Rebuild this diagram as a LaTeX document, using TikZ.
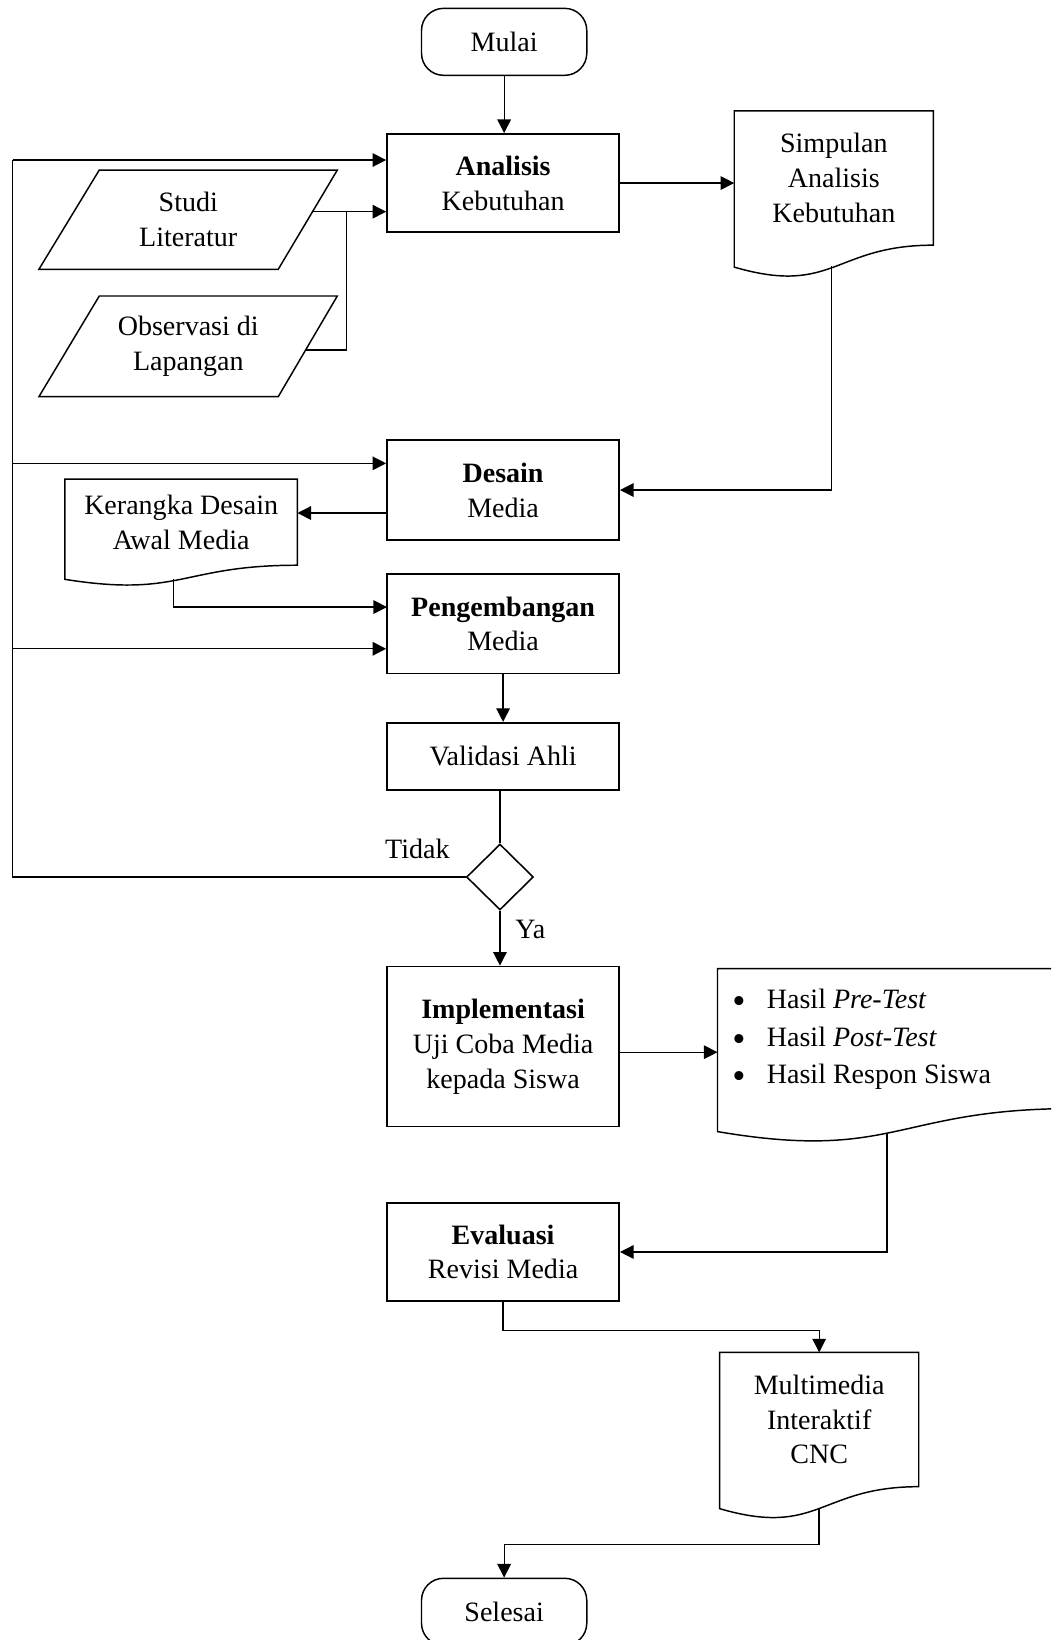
\documentclass[tikz,border=0pt]{standalone}
\usepackage{fontspec}
\setmainfont{Liberation Serif}
\usetikzlibrary{arrows.meta,shapes.geometric,calc}
\newcommand\figfont{\fontsize{26.8}{33.3}\selectfont}
\newcommand\bigbul{\makebox[33pt][l]{\smash{\raisebox{-5pt}{\fontsize{36}{36}\selectfont\textbullet}}}}
\begin{document}
\begin{tikzpicture}[x=1pt,y=-1pt,
  base/.style={font=\figfont, align=center, inner sep=0pt},
  proc/.style={base, draw, line width=1.6pt, minimum width=222pt},
  term/.style={base, draw, line width=1.4pt, rounded corners=21pt, minimum width=158pt, minimum height=64pt},
  docbody/.style={base, anchor=north west},
  outline/.style={draw, line width=1.4pt, line join=miter},
  conn/.style={line width=1.2pt},
  arr/.style={conn, -{Triangle[length=13pt,width=13pt]}},
  lbl/.style={font=\figfont, inner sep=0pt}
]
\fill[white] (0,0) rectangle (1005,1568);
\useasboundingbox (0,0) rectangle (1005,1568);
\clip (0,0) rectangle (1005,1568);

% terminals
\node[term] (mulai) at (482,40) {\raisebox{-3pt}{Mulai}};
\node[term] (sel) at (482,1541) {\raisebox{-3pt}{Selesai}};

% process boxes
\node[proc, minimum height=94pt] (ana) at (481,175) {\textbf{Analisis}\\Kebutuhan};
\node[proc, minimum height=95pt] (des) at (481,468.5) {\textbf{Desain}\\Media};
\node[proc, minimum height=95pt] (peng) at (481,596.5) {\textbf{Pengembangan}\\Media};
\node[proc, minimum height=64pt] (val) at (481,723) {Validasi Ahli};
\node[proc, minimum height=153pt] (imp) at (481,1000.5) {\textbf{Implementasi}\\Uji Coba Media\\kepada Siswa};
\node[proc, minimum height=94pt] (eva) at (481,1197) {\textbf{Evaluasi}\\Revisi Media};

% decision
\node[diamond, draw, line width=1.5pt, minimum width=64pt, minimum height=63pt, inner sep=0pt] (dia) at (478,838.5) {};

% input parallelograms
\draw[outline] (37.2,257.5) -- (94.9,162.6) -- (322.5,162.6) -- (266,257.5) -- cycle;
\node[base] (studi) at (180,210) {Studi\\Literatur};
\draw[outline] (37.2,379.3) -- (94.9,283) -- (322.5,283) -- (266,379.3) -- cycle;
\node[base] (obs) at (180,331) {Observasi di\\Lapangan};

% documents
\node[docbody, minimum width=190pt, minimum height=128pt] (sim) at (702,106) {Simpulan\\Analisis\\Kebutuhan};
\draw[outline] (sim.north west) -- (sim.north east) -- (sim.south east)
  .. controls +(-95,0) and +(95,27.7) .. ($(sim.south west)+(0,21)$) -- cycle;

\node[docbody, minimum width=222pt, minimum height=82pt] (ker) at (62,458) {Kerangka Desain\\Awal Media};
\draw[outline] (ker.north west) -- (ker.north east) -- (ker.south east)
  .. controls +(-111,0) and +(111,17.7) .. ($(ker.south west)+(0,13.5)$) -- cycle;

\node[docbody, minimum width=340pt, minimum height=133.5pt] (has) at (686,926) {};
\draw[outline] (has.north west) -- (has.north east) -- (has.south east)
  .. controls +(-170,0) and +(170,28.9) .. ($(has.south west)+(0,22)$) -- cycle;
\node[base, anchor=west, align=left, font=\fontsize{26.8}{35.8}\selectfont] (hast) at (700,993.8)
  {\bigbul Hasil \textit{Pre-Test}\\
   \bigbul Hasil \textit{Post-Test}\\
   \bigbul Hasil Respon Siswa};

\node[docbody, minimum width=190pt, minimum height=128pt] (mul) at (688,1293) {Multimedia\\Interaktif\\CNC};
\draw[outline] (mul.north west) -- (mul.north east) -- (mul.south east)
  .. controls +(-95,0) and +(95,27.7) .. ($(mul.south west)+(0,21)$) -- cycle;

% connector points
\coordinate (stR) at (298.8,202.4);
\coordinate (obR) at (292.2,334.7);
\coordinate (join) at (331.5,202.4);
\coordinate (simB) at (795,254.5);
\coordinate (desOut) at (370,490.5);
\coordinate (kerB) at (166,553.5);
\coordinate (pengIn) at (370,580.4);
\coordinate (loopT) at (12,153);
\coordinate (loopD) at (12,443);
\coordinate (loopP) at (12,620.3);
\coordinate (impOut) at (592,1006);
\coordinate (hasB) at (848,1083);
\coordinate (mulB) at (783,1442);

% connectors
\draw[arr] (mulai.south) -- (mulai.south |- ana.north);
\draw[arr] (stR) -- (stR -| ana.west);
\draw[conn] (obR) -| (join);
\draw[arr] (ana.east) -- (ana.east -| sim.west);
\draw[arr] (simB) |- (des.east);
\draw[arr] (desOut) -- (desOut -| ker.east);
\draw[arr] (kerB) |- (pengIn);
\draw[arr] (peng.south) -- (val.north);
\draw[conn] (val.south -| dia.north) -- (dia.north);
\draw[conn] (dia.west) -| (loopT);
\draw[arr] (loopT) -- (loopT -| ana.west);
\draw[arr] (loopD) -- (loopD -| des.west);
\draw[arr] (loopP) -- (loopP -| peng.west);
\draw[arr] (dia.south) -- (dia.south |- imp.north);
\draw[arr] (impOut) -- (impOut -| has.west);
\draw[arr] (hasB) |- (eva.east);
\draw[arr] (eva.south) -- ++(0,27) -| (mul.north);
\draw[arr] (mulB) -- ++(0,35) -| (sel.north);

% labels
\node[lbl] (tidak) at (399,812) {Tidak};
\node[lbl] (ya) at (507,889) {Ya};
\end{tikzpicture}
\end{document}
